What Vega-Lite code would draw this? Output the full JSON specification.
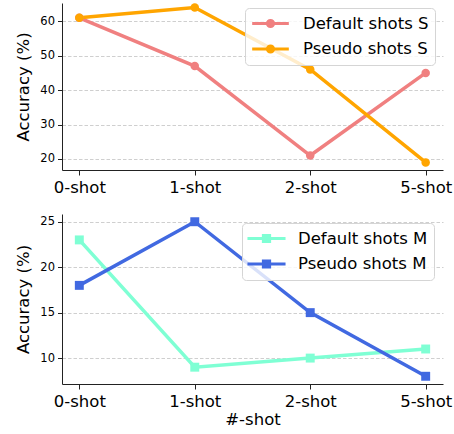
{
  "$schema": "https://vega.github.io/schema/vega-lite/v6.json",
  "padding": {"left": 15, "top": 0, "right": 5, "bottom": 0},
  "bounds": "flush",
  "spacing": 44,
  "resolve": {"scale": {"color": "independent", "x": "independent", "y": "independent"}, "legend": {"color": "independent"}},
  "config": {
    "font": "DejaVu Sans",
    "view": {"stroke": null},
    "axis": {
      "labelFont": "DejaVu Sans", "titleFont": "DejaVu Sans",
      "labelColor": "#000", "titleColor": "#000", "titleFontWeight": "normal",
      "domainColor": "#222", "tickColor": "#222", "domainWidth": 1, "tickWidth": 1,
      "gridColor": "#cfcfcf", "gridDash": [3.5, 2], "gridWidth": 1
    },
    "legend": {
      "labelFont": "DejaVu Sans", "labelColor": "#000", "labelFontSize": 16.5,
      "rowPadding": 6.5, "padding": 6,
      "fillColor": "rgba(255,255,255,0.8)", "strokeColor": "#d5d5d5", "cornerRadius": 4,
      "symbolSize": 256, "symbolStrokeWidth": 3
    }
  },
  "vconcat": [
    {
      "width": 381, "height": 167,
      "data": {"values": [
        {"shot": "0-shot", "acc": 61, "series": "Default shots S"},
        {"shot": "1-shot", "acc": 47, "series": "Default shots S"},
        {"shot": "2-shot", "acc": 21, "series": "Default shots S"},
        {"shot": "5-shot", "acc": 45, "series": "Default shots S"},
        {"shot": "0-shot", "acc": 61, "series": "Pseudo shots S"},
        {"shot": "1-shot", "acc": 64, "series": "Pseudo shots S"},
        {"shot": "2-shot", "acc": 46, "series": "Pseudo shots S"},
        {"shot": "5-shot", "acc": 19, "series": "Pseudo shots S"}
      ]},
      "mark": {"type": "line", "strokeWidth": 3.5, "point": {"filled": true, "shape": "circle", "size": 72, "opacity": 1}},
      "encoding": {
        "x": {"field": "shot", "type": "ordinal", "scale": {"type": "point", "padding": 0.15},
              "axis": {"title": null, "labelFontSize": 16.5, "labelAngle": 0, "grid": false, "tickSize": 5, "labelPadding": 4}},
        "y": {"field": "acc", "type": "quantitative", "scale": {"domain": [16.8, 65.3], "nice": false, "zero": false},
              "axis": {"title": "Accuracy (%)", "values": [20, 30, 40, 50, 60], "labelFontSize": 11.5, "titleFontSize": 16.5, "grid": true, "tickSize": 4.5, "labelPadding": 3, "titlePadding": 8}},
        "color": {"field": "series", "type": "nominal",
                  "scale": {"domain": ["Default shots S", "Pseudo shots S"], "range": ["#F08080", "#FFA500"]},
                  "legend": {"title": null, "orient": "none", "legendX": 183, "legendY": 5,
                             "symbolOffset": 10, "labelOffset": 23,
                             "symbolType": "M-2.29,0H2.29M0.39,0A0.39,0.39,0,1,1,-0.39,0A0.39,0.39,0,1,1,0.39,0Z",
                             "encode": {"symbols": {"update": {
                               "fill": {"signal": "datum.value === 'Default shots S' ? '#F08080' : '#FFA500'"},
                               "stroke": {"signal": "datum.value === 'Default shots S' ? '#F08080' : '#FFA500'"},
                               "opacity": {"value": 1}, "strokeWidth": {"value": 3}}}}}}
      }
    },
    {
      "width": 381, "height": 170,
      "data": {"values": [
        {"shot": "0-shot", "acc": 23, "series": "Default shots M"},
        {"shot": "1-shot", "acc": 9, "series": "Default shots M"},
        {"shot": "2-shot", "acc": 10, "series": "Default shots M"},
        {"shot": "5-shot", "acc": 11, "series": "Default shots M"},
        {"shot": "0-shot", "acc": 18, "series": "Pseudo shots M"},
        {"shot": "1-shot", "acc": 25, "series": "Pseudo shots M"},
        {"shot": "2-shot", "acc": 15, "series": "Pseudo shots M"},
        {"shot": "5-shot", "acc": 8, "series": "Pseudo shots M"}
      ]},
      "mark": {"type": "line", "strokeWidth": 3.5, "point": {"filled": true, "shape": "square", "size": 80, "opacity": 1}},
      "encoding": {
        "x": {"field": "shot", "type": "ordinal", "scale": {"type": "point", "padding": 0.15},
              "axis": {"title": "#-shot", "titleFontSize": 16.5, "titlePadding": 2, "labelFontSize": 16.5, "labelAngle": 0, "grid": false, "tickSize": 5, "labelPadding": 4}},
        "y": {"field": "acc", "type": "quantitative", "scale": {"domain": [7.15, 25.85], "nice": false, "zero": false},
              "axis": {"title": "Accuracy (%)", "values": [10, 15, 20, 25], "labelFontSize": 11.5, "titleFontSize": 16.5, "grid": true, "tickSize": 4.5, "labelPadding": 3, "titlePadding": 8}},
        "color": {"field": "series", "type": "nominal",
                  "scale": {"domain": ["Default shots M", "Pseudo shots M"], "range": ["#7FFFD4", "#4169E1"]},
                  "legend": {"title": null, "orient": "none", "legendX": 180, "legendY": 9,
                             "symbolOffset": 9, "labelOffset": 22,
                             "symbolType": "M-2.38,0H2.38M-0.39,-0.39H0.39V0.39H-0.39Z",
                             "encode": {"symbols": {"update": {
                               "fill": {"signal": "datum.value === 'Default shots M' ? '#7FFFD4' : '#4169E1'"},
                               "stroke": {"signal": "datum.value === 'Default shots M' ? '#7FFFD4' : '#4169E1'"},
                               "opacity": {"value": 1}, "strokeWidth": {"value": 3}}}}}}
      }
    }
  ]
}
